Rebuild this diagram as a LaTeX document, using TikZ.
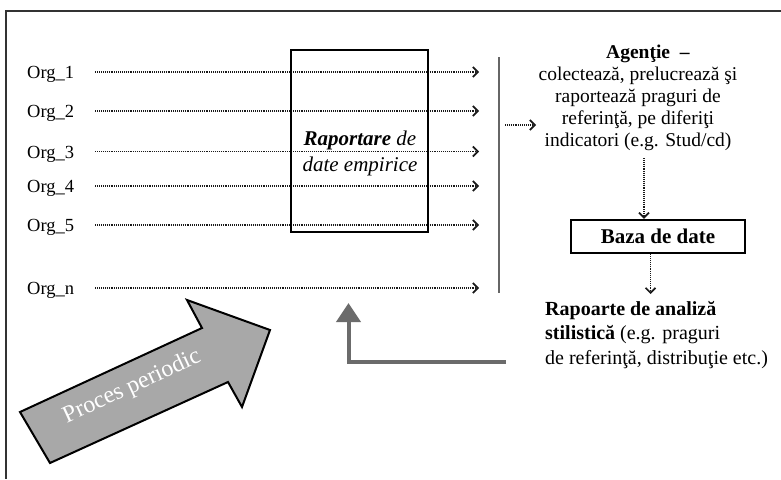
\documentclass[tikz,border=0pt]{standalone}
\usepackage{fontspec}
\setmainfont{Liberation Serif}
\usetikzlibrary{arrows.meta}
\begin{document}
\begin{tikzpicture}[x=1pt,y=-1pt,
  orglabel/.style={anchor=west,inner sep=0pt,text height=13pt,text depth=0pt,
    font=\fontsize{18.5}{22}\selectfont},
  dotarrow/.style={draw=black!90,line width=1.1pt,dash pattern=on 1pt off 0.9pt,
    -{Straight Barb[length=5pt,width=10pt,line width=1.7pt]}},
  framebox/.style={draw=black,line width=2pt},
  grayline/.style={draw=black!60,line width=1.5pt},
  feedback/.style={draw=black!58,line width=4pt,
    -{Triangle[length=19pt,width=24pt]}},
  bigarrow/.style={draw=black,fill=black!34,line width=2pt,line join=miter}
]
\useasboundingbox (0,0) rectangle (781,479);

% page frame (top and left edges)
\draw[draw=black!80,line width=1.5pt] (781,11) -- (6,11) -- (6,479);

% organisations and their reporting lines
\foreach \i/\txt/\y in {1/Org\_1/72, 2/Org\_2/111, 3/Org\_3/151.5,
                        4/Org\_4/186, 5/Org\_5/225, n/Org\_n/288}{
  \node[orglabel] (org\i) at (27,\y) {\txt};
  \coordinate (end\i) at (479,\y);
  \draw[dotarrow,shorten <=21pt] (org\i.east) -- (end\i);
}

% empirical data reporting box
\node[framebox,minimum width=137pt,minimum height=182pt,inner sep=0pt] (raport) at (359.5,141) {};
\node[align=center,inner sep=0pt,font=\fontsize{21}{26}\selectfont] (rapText) at (360,153)
  {\textbf{\textit{Raportare}} \textit{de}\\\textit{date empirice}};

% collecting bar
\coordinate (barTop) at (499,57);
\coordinate (barBot) at (499,293);
\draw[grayline] (barTop) -- (barBot);

% agency
\node[align=center,inner sep=0pt,font=\fontsize{19.5}{22}\selectfont] (agentie) at (638,98)
  {\hspace*{20pt}\textbf{Agenţie~~–}\\colectează, prelucrează şi\\raportează praguri de\\
   referinţă, pe diferiţi\\indicatori (e.g. Stud/cd)};
\coordinate (barOut) at (505,125);
\coordinate (agIn) at (536,125);
\draw[dotarrow] (barOut) -- (agIn);

% database
\node[draw=black,line width=2.4pt,minimum width=174pt,minimum height=33pt,inner sep=0pt,
  font=\fontsize{21}{26}\selectfont\bfseries] (baza) at (658,236.5) {Baza de date};
\coordinate (ax) at (644,0);
\draw[dotarrow] (ax |- 0,158) -- (ax |- baza.north);
\coordinate (bx) at (650.5,0);
\coordinate (rapIn) at (650.5,294);
\draw[dotarrow] (bx |- baza.south) -- (rapIn);

% statistical reports
\node[anchor=north west,align=left,inner sep=0pt,font=\fontsize{20}{24.5}\selectfont] (rapoarte) at (545,301)
  {\textbf{Rapoarte de analiză}\\\textbf{stilistică} (e.g. praguri\\de referinţă, distribuţie etc.)};

% feedback towards the organisations
\coordinate (fbStart) at (506,362);
\coordinate (fbTip) at (348.5,303);
\draw[feedback] (fbStart) -| (fbTip);

% periodic process arrow
\draw[bigarrow] (20,412) -- (202,328) -- (187,300) -- (270,330) -- (242,407)
  -- (228,382) -- (50,463) -- cycle;
\node[rotate=24.7,text=white,inner sep=0pt,font=\fontsize{24}{26}\selectfont] (proces) at (132,387)
  {Proces periodic};
\end{tikzpicture}
\end{document}
